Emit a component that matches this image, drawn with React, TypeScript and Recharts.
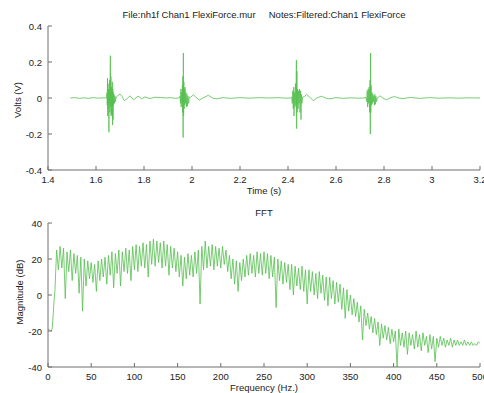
import React from "react";
import { LineChart, Line, XAxis, YAxis } from "recharts";

// --- time signal (Volts vs s) ---
const TIME_S = [
  1.493, 1.51, 1.53, 1.55, 1.57, 1.59, 1.61, 1.63, 1.644,
  1.646, 1.647, 1.648, 1.649, 1.65, 1.651, 1.652, 1.653, 1.654, 1.655, 1.656, 1.657, 1.658, 1.659,
  1.66, 1.661, 1.662, 1.663, 1.664, 1.665, 1.666, 1.667, 1.668, 1.669, 1.67, 1.671, 1.672, 1.673,
  1.675, 1.677, 1.679, 1.681, 1.684,
  1.69, 1.7, 1.708, 1.718, 1.728, 1.742, 1.756, 1.775, 1.79, 1.804, 1.825, 1.845, 1.87, 1.89, 1.91, 1.93, 1.945,
  1.95, 1.952, 1.954, 1.955, 1.957, 1.958, 1.96, 1.961, 1.962, 1.963, 1.964, 1.965, 1.966, 1.967, 1.968,
  1.97, 1.971, 1.973, 1.975, 1.977, 1.979, 1.981, 1.983, 1.986, 1.989,
  1.995, 2.006, 2.016, 2.03, 2.045, 2.068, 2.085, 2.1, 2.13, 2.16, 2.2, 2.24, 2.28, 2.32, 2.36, 2.39, 2.41,
  2.415, 2.418, 2.42, 2.422, 2.424, 2.425, 2.427, 2.429, 2.431, 2.433, 2.435, 2.436, 2.437, 2.438, 2.44,
  2.442, 2.444, 2.446, 2.448, 2.45, 2.452, 2.454, 2.456, 2.458, 2.461,
  2.468, 2.478, 2.49, 2.506, 2.52, 2.54, 2.556, 2.574, 2.6, 2.63, 2.66, 2.69, 2.715, 2.725,
  2.728, 2.73, 2.732, 2.734, 2.736, 2.738, 2.74, 2.742, 2.743, 2.744, 2.745, 2.746, 2.748, 2.75,
  2.752, 2.754, 2.756, 2.758, 2.76, 2.762, 2.764, 2.766, 2.769, 2.772,
  2.783, 2.795, 2.81, 2.825, 2.843, 2.86, 2.88, 2.91, 2.95, 2.99, 3.03, 3.07, 3.11, 3.15, 3.19, 3.2,
];
const VOLTS = [
  0, 0.002, -0.002, 0.001, -0.002, 0.002, -0.001, 0.001, 0,
  0.03, -0.04, 0.11, -0.1, 0.08, -0.06, 0.05, -0.12, -0.19, 0.04, -0.03, 0.1, -0.08, 0.15,
  0.235, -0.05, 0.12, -0.1, 0.06, -0.09, 0.04, -0.05, 0.09, -0.15, 0.05, -0.12, 0.03, -0.04,
  0.02, -0.03, 0.01, -0.02, 0.005,
  0.012, 0.022, 0.01, -0.015, -0.005, 0.012, -0.01, 0.01, -0.004, 0.006, -0.003, 0.004, 0.003, 0, 0.002, -0.002, 0,
  0.01, -0.03, 0.05, -0.05, 0.03, -0.02, 0.07, -0.08, 0.12, -0.22, 0.25, -0.1, 0.09, -0.06, 0.05,
  -0.04, 0.06, -0.03, 0.03, -0.05, 0.02, -0.045, 0.01, -0.03, 0.005,
  0.005, 0.018, 0.005, -0.012, 0, 0.015, 0, -0.005, 0.002, -0.002, 0.002, -0.001, 0.002, 0, 0.002, -0.001, 0,
  0.005, -0.03, 0.04, -0.06, 0.06, -0.1, 0.03, -0.05, 0.08, -0.04, 0.21, -0.17, 0.15, -0.08, 0.05,
  -0.06, 0.04, -0.03, 0.05, -0.08, 0.04, -0.12, 0.02, -0.03, 0.005,
  0.008, 0.02, 0.005, -0.015, 0, 0.01, 0, -0.005, 0.002, -0.002, 0.001, -0.001, 0, 0.003,
  -0.02, 0.04, -0.05, 0.05, -0.03, 0.06, -0.08, 0.1, -0.2, 0.25, -0.08, 0.07, -0.04, 0.03,
  -0.03, 0.02, -0.02, 0.01, -0.04, 0.02, -0.035, 0.01, -0.02, 0,
  0.012, 0, -0.01, 0, 0.008, 0, -0.003, 0.003, -0.002, 0.002, -0.001, 0.001, -0.001, 0.001, 0, 0,
];
const TIME_TICKS = [1.4, 1.6, 1.8, 2, 2.2, 2.4, 2.6, 2.8, 3, 3.2];
const VOLT_TICKS = [-0.4, -0.2, 0, 0.2, 0.4];

// --- FFT magnitude (dB vs Hz) ---
const FFT_START_HZ = [0, 1, 2, 3, 4, 5, 6, 7, 8, 9];
const FFT_START_DB = [-19, -19, -19.5, -20, -20, -18, -11, -3, 2, 14];
const FFT_BAND_FROM_HZ = 10;
const FFT_BAND_STEP_HZ = 2;
// one row = 20 Hz
const FFT_BAND_DB = [
  25, 14, 27, 15, 26, -2, 24, 13, 25, 8,
  23, 12, 22, 1, 21, -9, 20, 5, 19, 9,
  18, 7, 17, 2, 19, 8, 20, 10, 21, 6,
  22, 11, 24, 4, 23, 12, 25, 5, 24, 13,
  26, 12, 25, 8, 27, 14, 28, 13, 27, 16,
  29, 15, 28, 10, 30, 17, 31, 16, 30, 18,
  29, 15, 30, 16, 28, 11, 27, 15, 26, 13,
  24, 10, 22, 5, 21, 9, 23, 11, 22, 10,
  24, 12, 25, -5, 27, 14, 30, 15, 27, 16,
  28, 14, 27, 16, 26, 15, 27, 17, 25, 13,
  22, 9, 20, 6, 19, 2, 18, 8, 20, 10,
  22, 11, 23, 12, 22, 10, 24, 12, 23, 11,
  24, 12, 23, 9, 22, 10, 21, -7, 20, 8,
  19, 6, 18, 7, 17, 3, 17, 0, 16, 5,
  15, 3, 16, 2, 14, -5, 14, 2, 13, 0,
  12, -2, 13, 1, 11, -3, 10, -6, 10, -2,
  8, -5, 7, -4, 6, -8, 4, -13, 3, -9,
  0, -11, -2, -12, -4, -15, -6, -25, -8, -17,
  -10, -19, -12, -21, -13, -22, -15, -28, -16, -24,
  -17, -25, -18, -27, -19, -26, -20, -40, -19, -28,
  -21, -29, -20, -33, -21, -28, -22, -30, -20, -29,
  -22, -31, -21, -28, -23, -32, -22, -30, -23, -37,
  -24, -29, -23, -28, -24, -29, -25, -28, -24, -29,
  -25, -28, -25, -28, -26, -28, -25, -28, -26, -28,
  -26, -28, -27, -28, -26, -27,
];
const FREQ_TICKS = [0, 50, 100, 150, 200, 250, 300, 350, 400, 450, 500];
const DB_TICKS = [-40, -20, 0, 20, 40];

const timeData = TIME_S.map((t, i) => ({ t, v: VOLTS[i] }));
const fftData = [
  ...FFT_START_HZ.map((f, i) => ({ f, db: FFT_START_DB[i] })),
  ...FFT_BAND_DB.map((db, i) => ({ f: FFT_BAND_FROM_HZ + i * FFT_BAND_STEP_HZ, db })),
];

const GREEN = "#55bf4f";
const AXIS = "#6e6e6e";
const TEXT = "#222";
const FONT = "Arial, 'Liberation Sans', sans-serif";
const FS = 9.5;

const BottomTick = (props: any) => {
  const { x, y, payload } = props;
  return (
    <g>
      <line x1={x} y1={y} x2={x} y2={y - 4} stroke={AXIS} />
      <text x={x} y={y + 12.5} textAnchor="middle" fontSize={FS} fontFamily={FONT} fill={TEXT}>
        {String(payload.value)}
      </text>
    </g>
  );
};
const TopTick = (props: any) => (
  <line x1={props.x} y1={props.y} x2={props.x} y2={props.y + 4} stroke={AXIS} />
);
const LeftTick = (props: any) => {
  const { x, y, payload } = props;
  return (
    <g>
      <line x1={x} y1={y} x2={x + 4} y2={y} stroke={AXIS} />
      <text x={x - 6} y={y + 3.5} textAnchor="end" fontSize={FS} fontFamily={FONT} fill={TEXT}>
        {String(payload.value)}
      </text>
    </g>
  );
};
const RightTick = (props: any) => (
  <line x1={props.x} y1={props.y} x2={props.x - 4} y2={props.y} stroke={AXIS} />
);

function Panel({ data, xKey, yKey, xDomain, yDomain, xTicks, yTicks, top }: any) {
  return (
    <div style={{ position: "absolute", left: 0, top }}>
      <LineChart width={484} height={196} data={data} margin={{ top: 26, right: 4, left: 0, bottom: 0 }}>
        <XAxis
          xAxisId="b" dataKey={xKey} type="number" domain={xDomain} ticks={xTicks}
          allowDataOverflow height={26} tickSize={0} tickMargin={0}
          axisLine={{ stroke: AXIS }} tickLine={false} tick={<BottomTick />} interval={0}
        />
        <XAxis
          xAxisId="t" orientation="top" dataKey={xKey} type="number" domain={xDomain} ticks={xTicks}
          allowDataOverflow height={0} tickSize={0} tickMargin={0}
          axisLine={{ stroke: AXIS }} tickLine={false} tick={<TopTick />} interval={0}
        />
        <YAxis
          yAxisId="l" type="number" domain={yDomain} ticks={yTicks} allowDataOverflow
          width={48} tickSize={0} tickMargin={0}
          axisLine={{ stroke: AXIS }} tickLine={false} tick={<LeftTick />} interval={0}
        />
        <YAxis
          yAxisId="r" orientation="right" type="number" domain={yDomain} ticks={yTicks} allowDataOverflow
          width={0} tickSize={0} tickMargin={0}
          axisLine={{ stroke: AXIS }} tickLine={false} tick={<RightTick />} interval={0}
        />
        <Line
          xAxisId="b" yAxisId="l" dataKey={yKey} type="linear" dot={false}
          stroke={GREEN} strokeWidth={0.8} isAnimationActive={false}
        />
      </LineChart>
    </div>
  );
}

export default function App() {
  return (
    <div style={{ position: "absolute", left: 0, top: 0, width: 484, height: 393, background: "#fff", overflow: "hidden" }}>
      <Panel data={timeData} xKey="t" yKey="v" xDomain={[1.4, 3.2]} yDomain={[-0.4, 0.4]}
        xTicks={TIME_TICKS} yTicks={VOLT_TICKS} top={0} />
      <Panel data={fftData} xKey="f" yKey="db" xDomain={[0, 500]} yDomain={[-40, 40]}
        xTicks={FREQ_TICKS} yTicks={DB_TICKS} top={197} />
      <svg width={484} height={393} style={{ position: "absolute", left: 0, top: 0, pointerEvents: "none" }}
        fontFamily={FONT} fontSize={FS} fill={TEXT}>
        <text x={264} y={18.3} textAnchor="middle" xmlSpace="preserve">
          {"File:nh1f Chan1 FlexiForce.mur     Notes:Filtered:Chan1 FlexiForce"}
        </text>
        <text x={264} y={193.8} textAnchor="middle">Time (s)</text>
        <text x={264} y={215.7} textAnchor="middle">FFT</text>
        <text x={264} y={390.8} textAnchor="middle">Frequency (Hz.)</text>
        <text x={21} y={100} textAnchor="middle" transform="rotate(-90 21 100)">Volts (V)</text>
        <text x={23} y={292} textAnchor="middle" transform="rotate(-90 23 292)">Magnitude (dB)</text>
      </svg>
    </div>
  );
}
